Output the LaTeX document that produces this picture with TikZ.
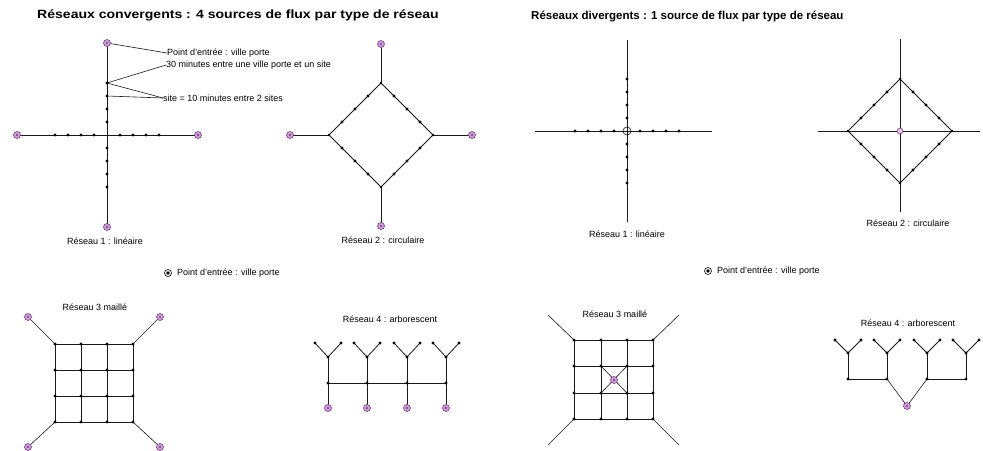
\documentclass[tikz,border=0pt]{standalone}
\usepackage{fontspec}
\setmainfont{Liberation Sans}
\usetikzlibrary{backgrounds,calc}
\definecolor{entf}{RGB}{205,160,215}
\definecolor{entd}{RGB}{120,60,130}
\definecolor{ln}{RGB}{25,25,25}
\begin{document}
\begin{tikzpicture}[x=1pt,y=-1pt,
 dot/.style={circle,fill=black,inner sep=0pt,minimum size=3.3pt},
 vtx/.style={circle,fill=black,inner sep=0pt,minimum size=2.8pt},
 entry/.style={circle,draw=entd,fill=entf,line width=0.6pt,inner sep=0pt,minimum size=7pt,
   path picture={\fill[entd] (path picture bounding box.center) circle (1.1pt);}},
 hub/.style={circle,draw=ln,inner sep=0pt,minimum size=8pt,line width=0.6pt},
 hubp/.style={circle,draw=entd,fill=entf!60,inner sep=0pt,minimum size=6pt,line width=0.6pt},
 legsym/.style={circle,draw=black,inner sep=0pt,minimum size=7pt,line width=0.6pt,
   path picture={\fill[black] (path picture bounding box.center) circle (1.8pt);}},
 link/.style={draw=ln,line width=0.8pt},
 note/.style={draw=ln,line width=0.6pt},
 lbl/.style={font=\fontsize{9}{10}\selectfont,inner sep=0pt},
 ttl/.style={font=\fontsize{11.5}{13}\selectfont\bfseries,inner sep=0pt,anchor=west}]
\useasboundingbox (0,0) rectangle (983,450);
\begin{scope}[on background layer]
\fill[white] (0,0) rectangle (983,450);
\end{scope}

% titles
\node[ttl,font=\fontsize{12}{14}\selectfont\bfseries] (TL) at (37,15) {\scalebox{1.17}[1]{Réseaux convergents : 4 sources de flux par type de réseau}};
\node[ttl] (TR) at (531,17) {Réseaux divergents : 1 source de flux par type de réseau};

% ---------- L1 linear convergent
\coordinate (L1c) at (107,135);
\node[entry] (L1t) at (107,43) {};
\node[entry] (L1b) at (107,227) {};
\node[entry] (L1l) at (17,135) {};
\node[entry] (L1r) at (198,135) {};
\foreach \i in {1,...,4}{
  \node[dot] (L1u\i) at (107,{135-13*\i}) {};
  \node[dot] (L1d\i) at (107,{135+13*\i}) {};
  \node[dot] (L1w\i) at ({107-13*\i},135) {};
  \node[dot] (L1e\i) at ({107+13*\i},135) {};
}
\node[lbl,anchor=west] (N1) at (167,53) {Point d'entrée : ville porte};
\node[lbl,anchor=west] (N2) at (166,65) {30 minutes entre une ville porte et un site};
\node[lbl,anchor=west] (N3) at (163,98) {site = 10 minutes entre 2 sites};
\node[lbl] (L1lab) at (105,241) {Réseau 1 : linéaire};
\begin{scope}[on background layer]
\draw[link] (L1l.center) -- (L1r.center);
\draw[link] (L1t.center) -- (L1b.center);
\draw[note] (L1t.center) -- (N1.west);
\draw[note] (L1u4.center) -- (N2.west);
\draw[note] (L1u4.center) -- (N3.west);
\draw[note] (L1u3.center) -- (N3.west);
\end{scope}

% ---------- L2 circular convergent
\node[vtx] (L2n) at (381,83) {};
\node[vtx] (L2e) at (433,135) {};
\node[vtx] (L2s) at (381,187) {};
\node[vtx] (L2w) at (329,135) {};
\node[entry] (L2tn) at (381,44) {};
\node[entry] (L2te) at (472,135) {};
\node[entry] (L2ts) at (381,226) {};
\node[entry] (L2tw) at (290,135) {};
\foreach \a/\b in {n/e,e/s,s/w,w/n}{
  \foreach \t/\f in {1/0.25,2/0.5,3/0.75}{
    \node[dot] (L2\a\b\t) at ($(L2\a)!\f!(L2\b)$) {};
  }
}
\node[lbl] (L2lab) at (383,240) {Réseau 2 : circulaire};
\begin{scope}[on background layer]
\draw[link] (L2n.center) -- (L2e.center) -- (L2s.center) -- (L2w.center) -- cycle;
\draw[link] (L2tn.center) -- (L2n.center);
\draw[link] (L2te.center) -- (L2e.center);
\draw[link] (L2ts.center) -- (L2s.center);
\draw[link] (L2tw.center) -- (L2w.center);
\end{scope}

% legend left
\node[legsym] (LegL) at (168,273) {};
\node[lbl,anchor=west] (LegLt) at (177,273) {Point d'entrée : ville porte};

% ---------- R1 linear divergent
\node[hub] (R1c) at (627,131) {};
\coordinate (R1t) at (627,40);
\coordinate (R1b) at (627,222);
\coordinate (R1l) at (535,131);
\coordinate (R1r) at (712,131);
\foreach \i in {1,...,4}{
  \node[dot] (R1u\i) at (627,{131-13*\i}) {};
  \node[dot] (R1d\i) at (627,{131+13*\i}) {};
  \node[dot] (R1w\i) at ({627-13*\i},131) {};
  \node[dot] (R1e\i) at ({627+13*\i},131) {};
}
\node[lbl] (R1lab) at (627,234) {Réseau 1 : linéaire};
\begin{scope}[on background layer]
\draw[link] (R1l) -- (R1r);
\draw[link] (R1t) -- (R1b);
\end{scope}

% ---------- R2 circular divergent
\node[hubp] (R2c) at (900,131) {};
\node[vtx] (R2n) at (900,79) {};
\node[vtx] (R2e) at (952,131) {};
\node[vtx] (R2s) at (900,183) {};
\node[vtx] (R2w) at (848,131) {};
\coordinate (R2tn) at (900,39);
\coordinate (R2ts) at (900,212);
\coordinate (R2tw) at (818,131);
\coordinate (R2te) at (980,131);
\foreach \a/\b in {n/e,e/s,s/w,w/n}{
  \foreach \t/\f in {1/0.25,2/0.5,3/0.75}{
    \node[dot] (R2\a\b\t) at ($(R2\a)!\f!(R2\b)$) {};
  }
}
\node[lbl] (R2lab) at (908,223) {Réseau 2 : circulaire};
\begin{scope}[on background layer]
\draw[link] (R2n.center) -- (R2e.center) -- (R2s.center) -- (R2w.center) -- cycle;
\draw[link] (R2tn) -- (R2ts);
\draw[link] (R2tw) -- (R2te);
\end{scope}

% legend right
\node[legsym] (LegR) at (708,271) {};
\node[lbl,anchor=west] (LegRt) at (717,271) {Point d'entrée : ville porte};

% ---------- L3 mesh convergent
\foreach \x [count=\i] in {55,81,107,133}{
  \foreach \y [count=\j] in {344,370,396,422}{
    \node[dot] (L3g\i\j) at (\x,\y) {};
  }
}
\node[entry] (L3a) at (28,317) {};
\node[entry] (L3b) at (160,317) {};
\node[entry] (L3c) at (28,447) {};
\node[entry] (L3d) at (160,447) {};
\node[lbl] (L3lab) at (95,307) {Réseau 3 maillé};
\begin{scope}[on background layer]
\foreach \i in {1,...,4}{
  \draw[link] (L3g\i1.center) -- (L3g\i4.center);
  \draw[link] (L3g1\i.center) -- (L3g4\i.center);
}
\draw[note] (L3a.center) -- (L3g11.center);
\draw[note] (L3b.center) -- (L3g41.center);
\draw[note] (L3c.center) -- (L3g14.center);
\draw[note] (L3d.center) -- (L3g44.center);
\end{scope}

% ---------- L4 tree convergent
\foreach \x [count=\i] in {328,367,407,446}{
  \node[dot] (L4j\i) at (\x,357) {};
  \node[dot] (L4a\i) at ({\x-13},343) {};
  \node[dot] (L4b\i) at ({\x+13},343) {};
  \node[dot] (L4m\i) at (\x,383) {};
  \node[entry] (L4e\i) at (\x,408) {};
}
\node[lbl] (L4lab) at (390,319) {Réseau 4 : arborescent};
\begin{scope}[on background layer]
\foreach \i in {1,...,4}{
  \draw[link] (L4a\i.center) -- (L4j\i.center) -- (L4b\i.center);
  \draw[link] (L4j\i.center) -- (L4e\i.center);
}
\draw[link] (L4m1.center) -- (L4m4.center);
\end{scope}

% ---------- R3 mesh divergent
\foreach \x [count=\i] in {574,601,627,653}{
  \foreach \y [count=\j] in {340,366,393,419}{
    \node[dot] (R3g\i\j) at (\x,\y) {};
  }
}
\node[entry] (R3x) at (614,380) {};
\coordinate (R3a) at (548,315);
\coordinate (R3b) at (679,315);
\coordinate (R3c) at (548,445);
\coordinate (R3d) at (679,445);
\node[lbl] (R3lab) at (615,314) {Réseau 3 maillé};
\begin{scope}[on background layer]
\foreach \i in {1,...,4}{
  \draw[link] (R3g\i1.center) -- (R3g\i4.center);
  \draw[link] (R3g1\i.center) -- (R3g4\i.center);
}
\draw[note] (R3g22.center) -- (R3g33.center);
\draw[note] (R3g32.center) -- (R3g23.center);
\draw[note] (R3a) -- (R3g11.center);
\draw[note] (R3b) -- (R3g41.center);
\draw[note] (R3c) -- (R3g14.center);
\draw[note] (R3d) -- (R3g44.center);
\end{scope}

% ---------- R4 tree divergent
\foreach \x [count=\i] in {848,887,927,966}{
  \node[dot] (R4j\i) at (\x,353) {};
  \node[dot] (R4a\i) at ({\x-13},340) {};
  \node[dot] (R4b\i) at ({\x+13},340) {};
  \node[dot] (R4m\i) at (\x,379) {};
}
\node[entry] (R4e) at (907,406) {};
\node[lbl] (R4lab) at (908,323) {Réseau 4 : arborescent};
\begin{scope}[on background layer]
\foreach \i in {1,...,4}{
  \draw[link] (R4a\i.center) -- (R4j\i.center) -- (R4b\i.center);
  \draw[link] (R4j\i.center) -- (R4m\i.center);
}
\draw[link] (R4m1.center) -- (R4m2.center);
\draw[link] (R4m3.center) -- (R4m4.center);
\draw[note] (R4m2.center) -- (R4e.center);
\draw[note] (R4m3.center) -- (R4e.center);
\end{scope}
\end{tikzpicture}
\end{document}
